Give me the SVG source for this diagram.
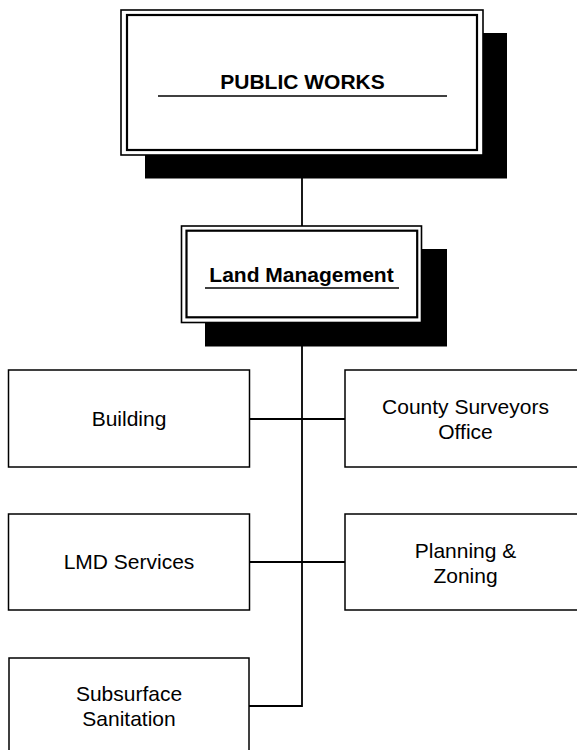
<svg xmlns="http://www.w3.org/2000/svg" width="577" height="750" viewBox="0 0 577 750">
<style>
.bg{fill:#fff}
.shadow{fill:#000}
.outer{fill:#fff;stroke:#000;stroke-width:1.6}
.inner{fill:none;stroke:#000;stroke-width:2.2}
.box{fill:#fff;stroke:#000;stroke-width:1.5}
.rule{stroke:#000;stroke-width:1.5}
.conn{fill:none;stroke:#000;stroke-width:1.8}
.t{font-family:"Liberation Sans",Arial,sans-serif;font-size:21px;text-anchor:middle;fill:#000}
.b{font-weight:bold}
</style>
<rect class="bg" x="0" y="0" width="577" height="750"/>
<g id="connectors">
<line class="conn" x1="302" y1="178" x2="302" y2="226"/>
<polyline class="conn" points="302,346 302,706 249,706"/>
<line class="conn" x1="249.5" y1="419" x2="345" y2="419"/>
<line class="conn" x1="249.5" y1="562" x2="345" y2="562"/>
</g>
<g id="public-works">
<rect class="shadow" x="145" y="33" width="362" height="145.5"/>
<rect class="outer" x="121" y="10" width="362" height="145"/>
<rect class="inner" x="127" y="15" width="350" height="135"/>
<text class="t b" x="302.5" y="89">PUBLIC WORKS</text>
<line class="rule" x1="158" y1="96" x2="447" y2="96"/>
</g>
<g id="land-management">
<rect class="shadow" x="205" y="249" width="242" height="97.5"/>
<rect class="outer" x="181.5" y="226" width="240" height="96.5"/>
<rect class="inner" x="186.5" y="230.7" width="230.7" height="86.6"/>
<text class="t b" x="301.5" y="281.5">Land Management</text>
<line class="rule" x1="205" y1="288" x2="399" y2="288"/>
</g>
<g id="building">
<rect class="box" x="8.5" y="370" width="241" height="97"/>
<text class="t" x="129" y="426">Building</text>
</g>
<g id="county-surveyors">
<rect class="box" x="345" y="370" width="241" height="97"/>
<text class="t" x="465.5" y="413.5">County Surveyors</text>
<text class="t" x="465.5" y="438.5">Office</text>
</g>
<g id="lmd-services">
<rect class="box" x="8.5" y="514" width="241" height="96"/>
<text class="t" x="129" y="569">LMD Services</text>
</g>
<g id="planning-zoning">
<rect class="box" x="345" y="514" width="241" height="96"/>
<text class="t" x="465.5" y="557.5">Planning &amp;</text>
<text class="t" x="465.5" y="582.5">Zoning</text>
</g>
<g id="subsurface-sanitation">
<rect class="box" x="9" y="658" width="240" height="97"/>
<text class="t" x="129" y="701">Subsurface</text>
<text class="t" x="129" y="726">Sanitation</text>
</g>
</svg>
